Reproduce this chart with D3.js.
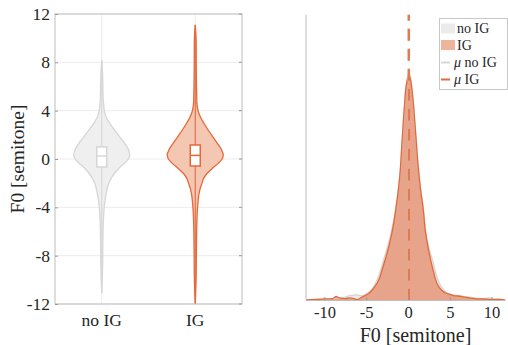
<!DOCTYPE html>
<html>
<head>
<meta charset="utf-8">
<script src="https://cdn.jsdelivr.net/npm/d3@7"></script>
<style>
  html, body { margin: 0; padding: 0; background: #fff; }
  svg { display: block; font-family: "Liberation Serif", "Times New Roman", serif; }
</style>
</head>
<body>
<svg id="chart" width="508" height="345"></svg>
<script>
// Groups and colours
const groups = ["no IG", "IG"];
const lineColors = ["#d6d6d6", "#e4693a"];
const fillColors = ["#efefef", "#f4c7b3"];

// Violin profiles: [F0 value, relative half-width]
const violinNoIG = [
  [8.2, 0], [7, 0.03], [6, 0.04], [5, 0.05], [4.5, 0.07], [4, 0.09], [3.5, 0.15],
  [3.2, 0.22], [2.7, 0.36], [2.15, 0.54], [1.7, 0.68], [1.3, 0.82], [0.8, 0.95],
  [0.33, 1.0], [0, 0.95], [-0.33, 0.82], [-0.7, 0.64], [-1.16, 0.46], [-1.6, 0.34],
  [-2, 0.25], [-2.5, 0.19], [-3.1, 0.14], [-3.7, 0.1], [-4.2, 0.08], [-5, 0.06],
  [-5.6, 0.05], [-7, 0.04], [-9, 0.03], [-11.1, 0]
];
const violinIG = [
  [11.1, 0], [10, 0.03], [8, 0.035], [6, 0.045], [5, 0.055], [4.6, 0.06], [4, 0.1],
  [3.5, 0.18], [3, 0.3], [2.4, 0.46], [1.8, 0.64], [1.3, 0.79], [0.8, 0.93],
  [0.33, 1.0], [0, 0.96], [-0.36, 0.82], [-0.8, 0.6], [-1.2, 0.42], [-1.6, 0.3],
  [-2.0, 0.24], [-2.5, 0.17], [-3.1, 0.12], [-3.8, 0.09], [-4.5, 0.07], [-6, 0.05],
  [-8, 0.04], [-10, 0.03], [-12, 0]
];
// Box summaries: [q1, median, q3]
const boxNoIG = [-0.66, 0.25, 1.0];
const boxIG = [-0.58, 0.3, 1.16];

// Kernel density estimates: [F0 value, density]
const kdeNoIG = [
  [-12.2, 0], [-11, 0.0004], [-10, 0.001], [-9, 0.0018], [-8.5, 0.0025], [-8, 0.0025],
  [-7.5, 0.0037], [-7, 0.0055], [-6.5, 0.0061], [-6, 0.0061], [-5.5, 0.005], [-5, 0.0074],
  [-4.5, 0.011], [-4, 0.0184], [-3.5, 0.0295], [-3, 0.0467], [-2.5, 0.0639], [-2, 0.0835],
  [-1.5, 0.1105], [-1, 0.1498], [-0.7, 0.194], [-0.4, 0.2395], [-0.2, 0.2653], [0.1, 0.28],
  [0.3, 0.2726], [0.6, 0.2456], [0.9, 0.2063], [1.2, 0.167], [1.5, 0.1375], [1.8, 0.1154],
  [2.1, 0.086], [2.5, 0.0639], [3, 0.0467], [3.5, 0.027], [4, 0.016], [4.5, 0.0098],
  [5, 0.0074], [5.5, 0.0061], [6, 0.0055], [7, 0.0037], [8, 0.0025], [9, 0.0018],
  [9.8, 0.0025], [10.5, 0.001], [11, 0.0006], [11.6, 0]
];
const kdeIG = [
  [-12.2, 0], [-11, 0.0006], [-10, 0.0012], [-9, 0.0018], [-8.6, 0.0043], [-8.2, 0.0025],
  [-7.5, 0.0018], [-7, 0.0025], [-6.5, 0.0018], [-6, 0.0006], [-5.5, 0.0037], [-5, 0.0061],
  [-4.5, 0.0098], [-4, 0.016], [-3.5, 0.0246], [-3, 0.0405], [-2.5, 0.0577], [-2, 0.0786],
  [-1.5, 0.1081], [-1, 0.1498], [-0.7, 0.1965], [-0.4, 0.2419], [-0.2, 0.264], [0.1, 0.2763],
  [0.3, 0.2702], [0.6, 0.2456], [0.9, 0.2063], [1.2, 0.1658], [1.5, 0.1351], [1.8, 0.113],
  [2.1, 0.0823], [2.5, 0.059], [3, 0.0368], [3.5, 0.0196], [4, 0.0123], [4.5, 0.0086],
  [5, 0.0068], [5.5, 0.0055], [6, 0.0049], [7, 0.0031], [8, 0.0018], [9, 0.0012],
  [10, 0.0006], [11, 0.0006], [11.6, 0]
];
// Group means of F0
const means = [0.08, 0.1];

// Tick labels
const yTicksLeft = [-12, -8, -4, 0, 4, 8, 12];
const xTicksRight = [-10, -5, 0, 5, 10];

const svg = d3.select("#chart");
const textColor = "#262626";
const axisColor = "#bdbdbd";
const gridColor = "#ececec";

// ---------- Left panel: violins ----------
const L = { left: 55, right: 242, top: 14, bottom: 304 };
const xCat = d3.scaleLinear().domain([0.5, 2.5]).range([L.left, L.right]);
const yF0 = d3.scaleLinear().domain([-12, 12]).range([L.bottom, L.top]);
const halfW = d3.scaleLinear().domain([0, 1]).range([0, 28]);

const left = svg.append("g");

// grid
left.selectAll("line.hgrid").data(yTicksLeft).join("line")
  .attr("x1", L.left).attr("x2", L.right)
  .attr("y1", d => yF0(d)).attr("y2", d => yF0(d))
  .attr("stroke", gridColor).attr("stroke-width", 1);
left.selectAll("line.vgrid").data([1, 2]).join("line")
  .attr("x1", d => xCat(d)).attr("x2", d => xCat(d))
  .attr("y1", L.top).attr("y2", L.bottom)
  .attr("stroke", gridColor).attr("stroke-width", 1);

const violins = [violinNoIG, violinIG];
const boxes = [boxNoIG, boxIG];

violins.forEach((prof, i) => {
  const cx = xCat(i + 1);
  const area = d3.area()
    .y(d => yF0(d[0]))
    .x0(d => cx - halfW(d[1]))
    .x1(d => cx + halfW(d[1]))
    .curve(d3.curveCatmullRom);
  left.append("path").datum(prof)
    .attr("d", area)
    .attr("fill", fillColors[i])
    .attr("stroke", lineColors[i])
    .attr("stroke-width", 1.3);
  const ext = d3.extent(prof, d => d[0]);
  left.append("line")
    .attr("x1", cx).attr("x2", cx)
    .attr("y1", yF0(ext[0])).attr("y2", yF0(ext[1]))
    .attr("stroke", lineColors[i]).attr("stroke-width", 1.1);
  const b = boxes[i];
  left.append("rect")
    .attr("x", cx - 5).attr("width", 10)
    .attr("y", yF0(b[2])).attr("height", yF0(b[0]) - yF0(b[2]))
    .attr("fill", "#fff").attr("stroke", lineColors[i]).attr("stroke-width", 1.5);
  left.append("line")
    .attr("x1", cx - 5).attr("x2", cx + 5)
    .attr("y1", yF0(b[1])).attr("y2", yF0(b[1]))
    .attr("stroke", lineColors[i]).attr("stroke-width", 1.5);
});

// frame
left.append("rect")
  .attr("x", L.left).attr("y", L.top)
  .attr("width", L.right - L.left).attr("height", L.bottom - L.top)
  .attr("fill", "none").attr("stroke", axisColor).attr("stroke-width", 1);

// y axis
const yAxisL = d3.axisLeft(yF0).tickValues(yTicksLeft).tickSizeInner(-3).tickSizeOuter(0).tickPadding(5)
  .tickFormat(d => d < 0 ? "-" + Math.abs(d) : d);
const gy = left.append("g").attr("transform", `translate(${L.left},0)`).call(yAxisL);
gy.select(".domain").remove();
gy.selectAll(".tick line").attr("stroke", "#9a9a9a");
gy.selectAll(".tick text").attr("fill", textColor).attr("font-size", 17.5)
  .attr("font-family", "Liberation Serif, serif");
// right-side ticks
left.selectAll("line.rtick").data(yTicksLeft).join("line")
  .attr("x1", L.right - 3).attr("x2", L.right)
  .attr("y1", d => yF0(d)).attr("y2", d => yF0(d))
  .attr("stroke", "#9a9a9a");

// category labels
left.selectAll("text.cat").data(groups).join("text")
  .attr("x", (d, i) => xCat(i + 1)).attr("y", 326)
  .attr("text-anchor", "middle").attr("fill", textColor).attr("font-size", 17.5)
  .text(d => d);

// y label
left.append("text")
  .attr("transform", `translate(24,${(L.top + L.bottom) / 2}) rotate(-90)`)
  .attr("text-anchor", "middle").attr("fill", textColor).attr("font-size", 19.5)
  .text("F0 [semitone]");

// ---------- Right panel: densities ----------
const R = { left: 306, right: 505, top: 14.7, bottom: 300 };
const xR = d3.scaleLinear().domain([-12.2, 11.6]).range([R.left, R.right]);
const yD = d3.scaleLinear().domain([0, 0.35]).range([R.bottom, R.top]);

const right = svg.append("g");
const kdes = [kdeNoIG, kdeIG];
const kdeFill = ["#e6e6e6", "#e4693a"];
const kdeFillOpacity = [0.8, 0.55];

kdes.forEach((k, i) => {
  const area = d3.area().x(d => xR(d[0])).y0(yD(0)).y1(d => yD(d[1])).curve(d3.curveCatmullRom);
  right.append("path").datum(k).attr("d", area)
    .attr("fill", kdeFill[i]).attr("fill-opacity", kdeFillOpacity[i]);
});
kdes.forEach((k, i) => {
  const line = d3.line().x(d => xR(d[0])).y(d => yD(d[1])).curve(d3.curveCatmullRom);
  right.append("path").datum(k).attr("d", line)
    .attr("fill", "none").attr("stroke", lineColors[i]).attr("stroke-width", 1.3);
});

// mean lines
means.forEach((m, i) => {
  right.append("line")
    .attr("x1", xR(m)).attr("x2", xR(m))
    .attr("y1", R.top).attr("y2", R.bottom)
    .attr("stroke", i === 0 ? "#dcdcdc" : "#e07a50")
    .attr("stroke-width", 2.4)
    .attr("stroke-dasharray", "12,8")
    .attr("stroke-dashoffset", 6);
});

// axes lines
right.append("line").attr("x1", R.left).attr("x2", R.left).attr("y1", R.top).attr("y2", R.bottom)
  .attr("stroke", axisColor);
const xAxisR = d3.axisBottom(xR).tickValues(xTicksRight).tickSizeInner(-3).tickSizeOuter(0).tickPadding(6)
  .tickFormat(d => d < 0 ? "-" + Math.abs(d) : d);
const gx = right.append("g").attr("transform", `translate(0,${R.bottom})`).call(xAxisR);
gx.select(".domain").attr("stroke", axisColor);
gx.selectAll(".tick line").attr("stroke", "#9a9a9a");
gx.selectAll(".tick text").attr("fill", textColor).attr("font-size", 16.5)
  .attr("font-family", "Liberation Serif, serif");

right.append("text")
  .attr("x", (R.left + R.right) / 2 + 10).attr("y", 342)
  .attr("text-anchor", "middle").attr("fill", textColor).attr("font-size", 20)
  .text("F0 [semitone]");

// legend
const lg = right.append("g");
lg.append("rect").attr("x", 439.5).attr("y", 18.5).attr("width", 68).attr("height", 71)
  .attr("fill", "#fff").attr("stroke", "#c8c8c8");
const legendItems = [
  { label: "no IG", mu: false, type: "patch", color: "#ebebeb", y: 28.5 },
  { label: "IG", mu: false, type: "patch", color: "#efb59b", y: 45 },
  { label: "no IG", mu: true, type: "line", color: "#d9d9d9", y: 62.5 },
  { label: "IG", mu: true, type: "line", color: "#e4693a", y: 79.5 }
];
legendItems.forEach(it => {
  if (it.type === "patch") {
    lg.append("rect").attr("x", 441).attr("y", it.y - 5).attr("width", 14).attr("height", 10)
      .attr("fill", it.color);
  } else {
    lg.append("line").attr("x1", 441).attr("x2", 450).attr("y1", it.y).attr("y2", it.y)
      .attr("stroke", it.color).attr("stroke-width", 2);
  }
  const t = lg.append("text").attr("x", it.mu ? 454 : 457).attr("y", it.y + 4.5)
    .attr("fill", textColor).attr("font-size", 14);
  if (it.mu) {
    t.append("tspan").attr("font-style", "italic").text("\u03bc");
    t.append("tspan").text(" " + it.label);
  } else {
    t.text(it.label);
  }
});
</script>
</body>
</html>
